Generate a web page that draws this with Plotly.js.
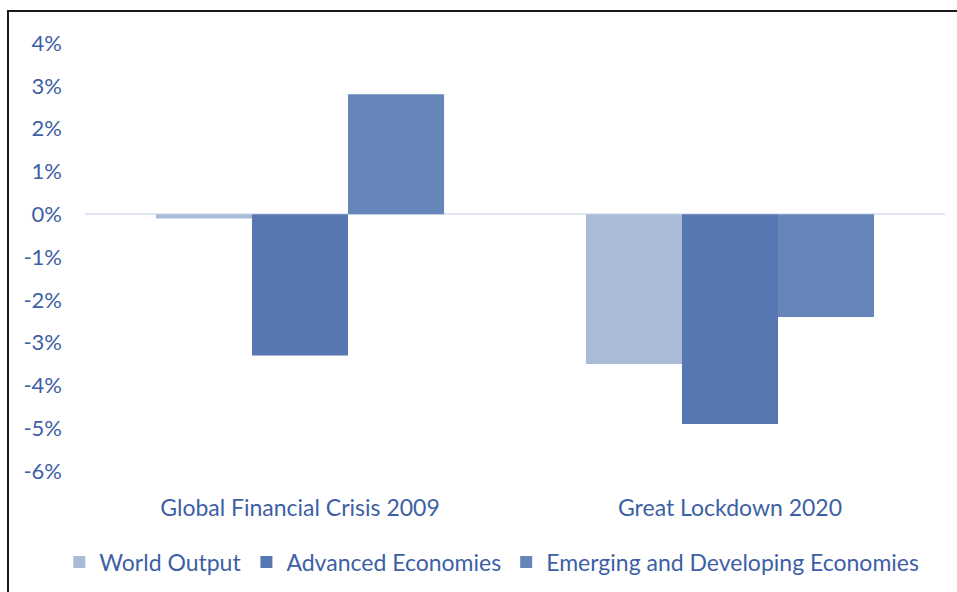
<!DOCTYPE html>
<html>
<head>
<meta charset="utf-8">
<script src="https://cdn.plot.ly/plotly-3.0.1.min.js"></script>
<style>
  html, body { margin:0; padding:0; background:#fff; overflow:hidden; }
  #chart { width:957px; height:592px; position:absolute; left:0; top:0; }
  #frame { position:absolute; left:7px; top:10px; width:1200px; height:1200px;
           border-top:2px solid #1a1a1a; border-left:2px solid #1a1a1a; pointer-events:none; }
</style>
</head>
<body>
<div id="chart"></div>
<div id="frame"></div>
<script>
const categories = ["Global Financial Crisis 2009", "Great Lockdown 2020"];
const seriesNames = ["World Output", "Advanced Economies", "Emerging and Developing Economies"];
const worldOutput = [-0.1, -3.5];
const advancedEconomies = [-3.3, -4.9];
const emergingEconomies = [2.8, -2.4];
const seriesColors = ["#aabbd8", "#5777b3", "#6685ba"];
const yTicks = [4, 3, 2, 1, 0, -1, -2, -3, -4, -5, -6];

const textColor = "#3e5fa6";
const fontFamily = "Lato, 'Open Sans', sans-serif";

const seriesValues = [worldOutput, advancedEconomies, emergingEconomies];
const data = seriesValues.map((vals, i) => ({
  type: "bar",
  name: seriesNames[i],
  x: categories,
  y: vals,
  marker: { color: seriesColors[i], line: { width: 0 } },
  hoverinfo: "skip"
}));

const layout = {
  width: 957,
  height: 592,
  margin: { l: 85, r: 12, t: 43, b: 121, autoexpand: false },
  paper_bgcolor: "#ffffff",
  plot_bgcolor: "#ffffff",
  barmode: "group",
  bargap: 0.33,
  bargroupgap: 0,
  font: { family: fontFamily, color: textColor, size: 22 },
  showlegend: true,
  legend: {
    orientation: "h",
    x: 0.473, xanchor: "center",
    y: -0.2126, yanchor: "middle",
    font: { family: fontFamily, color: textColor, size: 23 },
    itemwidth: 30,
    traceorder: "normal"
  },
  xaxis: {
    type: "category",
    showgrid: false,
    showline: false,
    zeroline: false,
    ticks: "",
    ticklabelstandoff: 21,
    tickfont: { family: fontFamily, color: textColor, size: 23 }
  },
  yaxis: {
    range: [-6, 4],
    tickvals: yTicks,
    ticktext: yTicks.map(v => v + "%"),
    showgrid: false,
    showline: false,
    zeroline: true,
    zerolinecolor: "#e1e7f2",
    zerolinewidth: 2,
    ticks: "",
    ticklabelstandoff: 22,
    tickfont: { family: fontFamily, color: textColor, size: 22 }
  }
};

Plotly.newPlot("chart", data, layout, { displayModeBar: false, staticPlot: true });
</script>
</body>
</html>
